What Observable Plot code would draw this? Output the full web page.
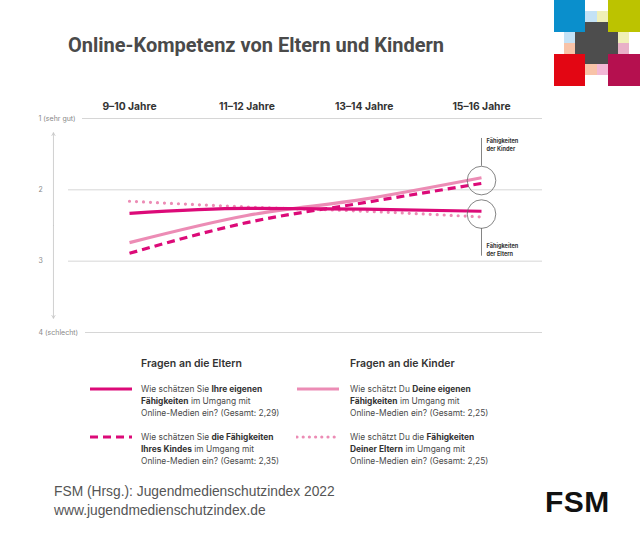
<!DOCTYPE html>
<html><head><meta charset="utf-8">
<script src="https://cdn.jsdelivr.net/npm/d3@7"></script>
<script src="https://cdn.jsdelivr.net/npm/@observablehq/plot@0.6"></script>
<style>
html,body{margin:0;padding:0;background:#fff;}
#wrap{position:relative;width:640px;height:537px;overflow:hidden;font-family:Inter,"Noto Sans",sans-serif;}
.abs{position:absolute;white-space:nowrap;}
#title{left:68px;top:33px;font-family:Roboto,sans-serif;font-weight:700;font-size:20px;color:#4a4a4a;}
.lh{font-weight:600;font-size:10.5px;color:#333;}
.lt{font-size:8.4px;line-height:12px;color:#4a4a4a;}
.lt b{font-weight:700;color:#333;}
.foot{left:54px;font-family:"Liberation Sans",Arial,sans-serif;font-size:13.8px;color:#555;}
#fsm{left:545px;top:485px;font-family:"Liberation Sans",Arial,sans-serif;font-weight:700;font-size:30px;color:#111;letter-spacing:0.5px;}
</style></head>
<body><div id="wrap"></div>
<script>
// ---- data ----
const ages = ["9–10 Jahre", "11–12 Jahre", "13–14 Jahre", "15–16 Jahre"];
const elternEigene = [2.33, 2.26, 2.27, 2.30];   // Eltern: eigene Fähigkeiten (Gesamt 2,29)
const elternKind   = [2.89, 2.46, 2.18, 1.91];   // Eltern: Fähigkeiten des Kindes (Gesamt 2,35)
const kinderEigene = [2.74, 2.36, 2.13, 1.83];   // Kinder: eigene Fähigkeiten (Gesamt 2,25)
const kinderEltern = [2.16, 2.24, 2.30, 2.38];   // Kinder: Fähigkeiten der Eltern (Gesamt 2,25)
const yTicks = [1, 2, 3, 4];
const yTickLabels = ["1 (sehr gut)", "2", "3", "4 (schlecht)"];
const annotations = ["Fähigkeiten\nder Kinder", "Fähigkeiten\nder Eltern"];

const DARK = "#dc0a78", LIGHT = "#ec8cb5";
const series = [
  {key: "kinderEltern", values: kinderEltern, color: LIGHT, dash: "0,7", cap: "round"},
  {key: "kinderEigene", values: kinderEigene, color: LIGHT, dash: null, cap: "butt"},
  {key: "elternKind",   values: elternKind,   color: DARK,  dash: "8,5", cap: "butt"},
  {key: "elternEigene", values: elternEigene, color: DARK,  dash: null, cap: "butt"}
];

const last = ages.length - 1;
const topCircle = (kinderEigene[last] + elternKind[last]) / 2;
const botCircle = (elternEigene[last] + kinderEltern[last]) / 2;
const R = 14.3;

const wrap = document.getElementById("wrap");

const marks = [
  Plot.ruleY(yTicks.filter(t => t === 2 || t === 3), {stroke: "#d6d6d6", strokeWidth: 1}),
  Plot.ruleY([1], {stroke: "#d6d6d6", strokeWidth: 1, insetLeft: 14}),
  Plot.ruleY([4], {stroke: "#d6d6d6", strokeWidth: 1, insetLeft: 17}),
  Plot.text(yTicks, {y: d => d, text: (d, i) => yTickLabels[i], frameAnchor: "left", dx: -30, textAnchor: "start", fontSize: 7, fill: "#888"}),
  Plot.arrow([{a: 2.5, b: 1.2}, {a: 2.5, b: 3.8}], {x1: -0.648, x2: -0.648, y1: "a", y2: "b", stroke: "#c4c4c4", strokeWidth: 0.8, headLength: 6}),
  Plot.text(ages, {x: (d, i) => i, text: d => d, frameAnchor: "top", dy: -16, fontSize: 10.3, fontWeight: 700, fill: "#333"}),
  ...series.map(s => Plot.line(s.values, {
    x: (d, i) => i, y: d => d, stroke: s.color, strokeWidth: 3.2,
    strokeDasharray: s.dash, strokeLinecap: s.cap, curve: "monotone-x"
  })),
  Plot.ruleX([last], {y1: 1.28, y2: topCircle, insetBottom: R, stroke: "#666", strokeWidth: 0.8}),
  Plot.ruleX([last], {y1: botCircle, y2: 2.93, insetTop: R, stroke: "#666", strokeWidth: 0.8}),
  Plot.dot([topCircle, botCircle], {x: last, y: d => d, r: R, stroke: "#666", strokeWidth: 0.8, fill: "none"}),
  Plot.text([1.27, 2.74], {x: last, y: d => d, text: (d, i) => annotations[i], textAnchor: "start", lineAnchor: "top", dx: 5, fontSize: 5.6, fontWeight: 700, lineHeight: 1.35, fill: "#333"})
];

const chart = Plot.plot({
  width: 640, height: 260,
  marginLeft: 68, marginRight: 98, marginTop: 33, marginBottom: 13,
  x: {type: "linear", domain: [0, 3], range: [129, 481], axis: null},
  y: {type: "linear", domain: [1, 4], range: [33, 247], axis: null},
  style: {fontFamily: "Inter, 'Noto Sans', sans-serif", background: "transparent", overflow: "visible"},
  marks
});
chart.style.position = "absolute";
chart.style.left = "0px";
chart.style.top = "85px";
wrap.appendChild(chart);

function add(html, cls, left, top) {
  const d = document.createElement("div");
  d.className = "abs " + (cls || "");
  if (left != null) d.style.left = left + "px";
  if (top != null) d.style.top = top + "px";
  d.innerHTML = html;
  wrap.appendChild(d);
  return d;
}

add("Online-Kompetenz von Eltern und Kindern", "", null, null).id = "title";

// logo (decorative)
const logoCells = [
  [554, 0, 31, 32, "#0a8fcc"], [608, 0, 32, 32, "#bcc300"],
  [554, 54, 31, 32, "#e30613"], [608, 54, 32, 32, "#b5104f"],
  [585, 11, 11.5, 11, "#c4e2f6"], [596.5, 11, 11.5, 11, "#f0f0b8"],
  [564, 32, 11, 11, "#c4e2f6"], [618, 32, 11, 11, "#f0f0b8"],
  [564, 43, 11, 11, "#f8c3a8"], [618, 43, 11, 11, "#e9b1c8"],
  [585, 64, 11.5, 11, "#f8c3a8"], [596.5, 64, 11.5, 11, "#f2b8d6"],
  [585, 22, 23, 42, "#4d4d4d"], [575, 32, 43, 22, "#4d4d4d"]
];
for (const [x, y, w, h, c] of logoCells) {
  const d = add("", "", x, y);
  d.style.width = w + "px"; d.style.height = h + "px"; d.style.background = c;
}

// legend
function sample(left, top, color, dash, cap) {
  const d = add(`<svg width="44" height="6"><line x1="1" x2="43" y1="3" y2="3" stroke="${color}" stroke-width="3.2" ${dash ? `stroke-dasharray="${dash}"` : ""} stroke-linecap="${cap}"/></svg>`, "", left, top);
  d.style.lineHeight = "0";
}
add("Fragen an die Eltern", "lh", 141, 357);
add("Fragen an die Kinder", "lh", 350, 357);
sample(89, 386, DARK, null, "butt");
add("Wie schätzen Sie <b>Ihre eigenen</b><br><b>Fähigkeiten</b> im Umgang mit<br>Online-Medien ein? (Gesamt: 2,29)", "lt", 141, 383);
sample(89, 434, DARK, "8,5", "butt");
add("Wie schätzen Sie <b>die Fähigkeiten</b><br><b>Ihres Kindes</b> im Umgang mit<br>Online-Medien ein? (Gesamt: 2,35)", "lt", 141, 431);
sample(296, 386, LIGHT, null, "butt");
add("Wie schätzt Du <b>Deine eigenen</b><br><b>Fähigkeiten</b> im Umgang mit<br>Online-Medien ein? (Gesamt: 2,25)", "lt", 350, 383);
sample(296, 434, LIGHT, "0,6.2", "round");
add("Wie schätzt Du die <b>Fähigkeiten</b><br><b>Deiner Eltern</b> im Umgang mit<br>Online-Medien ein? (Gesamt: 2,25)", "lt", 350, 431);

// footer
add("FSM (Hrsg.): Jugendmedienschutzindex 2022", "foot", null, 484);
add("www.jugendmedienschutzindex.de", "foot", null, 503);
add("FSM", "", null, null).id = "fsm";
</script></body></html>
